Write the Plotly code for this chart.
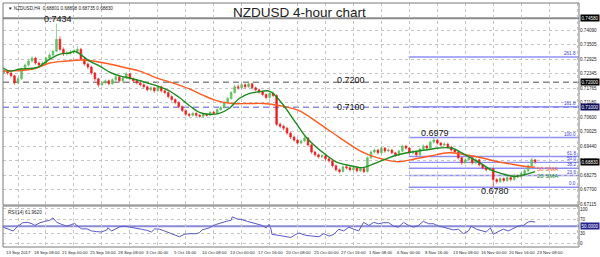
import plotly.graph_objects as go

# ---------------- data ----------------
first_open = 0.7240
close = [
    0.7245, 0.7237, 0.7226, 0.7198, 0.7214, 0.7253, 0.7269, 0.7285, 0.7297, 0.7277,
    0.7269, 0.7277, 0.7297, 0.7309, 0.7324, 0.7372, 0.7332, 0.7313, 0.7317, 0.7321,
    0.7324, 0.7332, 0.7293, 0.7273, 0.7261, 0.7237, 0.7214, 0.7190, 0.7198, 0.7206,
    0.7194, 0.7210, 0.7222, 0.7206, 0.7218, 0.7234, 0.7214, 0.7206, 0.7198, 0.7190,
    0.7182, 0.7170, 0.7178, 0.7166, 0.7182, 0.7166, 0.7159, 0.7143, 0.7131, 0.7119,
    0.7103, 0.7087, 0.7072, 0.7068, 0.7076, 0.7068, 0.7064, 0.7072, 0.7068, 0.7080,
    0.7076, 0.7091, 0.7099, 0.7119, 0.7135, 0.7159, 0.7182, 0.7178, 0.7190, 0.7182,
    0.7194, 0.7178, 0.7170, 0.7162, 0.7151, 0.7139, 0.7155, 0.7147, 0.7032, 0.7024,
    0.7016, 0.6997, 0.6981, 0.6969, 0.6957, 0.6965, 0.6977, 0.6949, 0.6921, 0.6910,
    0.6902, 0.6906, 0.6894, 0.6886, 0.6866, 0.6850, 0.6843, 0.6862, 0.6858, 0.6850,
    0.6858, 0.6846, 0.6854, 0.6843, 0.6898, 0.6921, 0.6929, 0.6918, 0.6937, 0.6925,
    0.6929, 0.6918, 0.6910, 0.6925, 0.6945, 0.6937, 0.6918, 0.6921, 0.6910, 0.6933,
    0.6945, 0.6937, 0.6961, 0.6969, 0.6957, 0.6949, 0.6953, 0.6941, 0.6929, 0.6921,
    0.6898, 0.6878, 0.6890, 0.6898, 0.6878, 0.6890, 0.6870, 0.6858, 0.6850, 0.6854,
    0.6811, 0.6803, 0.6815, 0.6807, 0.6819, 0.6811, 0.6827, 0.6823, 0.6835, 0.6846,
    0.6866, 0.6890, 0.6883]
high = [
    0.7252, 0.7250, 0.7241, 0.7230, 0.7220, 0.7258, 0.7275, 0.7292, 0.7305, 0.7302,
    0.7283, 0.7284, 0.7303, 0.7316, 0.7330, 0.7434, 0.7385, 0.7340, 0.7325, 0.7330,
    0.7333, 0.7345, 0.7338, 0.7298, 0.7279, 0.7266, 0.7242, 0.7219, 0.7206, 0.7212,
    0.7211, 0.7216, 0.7230, 0.7227, 0.7224, 0.7241, 0.7238, 0.7219, 0.7211, 0.7203,
    0.7196, 0.7187, 0.7184, 0.7182, 0.7189, 0.7186, 0.7171, 0.7163, 0.7148, 0.7136,
    0.7124, 0.7108, 0.7092, 0.7078, 0.7082, 0.7080, 0.7073, 0.7078, 0.7077, 0.7085,
    0.7086, 0.7096, 0.7105, 0.7124, 0.7141, 0.7165, 0.7190, 0.7192, 0.7198, 0.7196,
    0.7203, 0.7199, 0.7183, 0.7175, 0.7167, 0.7156, 0.7162, 0.7163, 0.7152, 0.7040,
    0.7031, 0.7022, 0.7003, 0.6987, 0.6975, 0.6972, 0.6984, 0.6981, 0.6953, 0.6926,
    0.6915, 0.6913, 0.6911, 0.6899, 0.6890, 0.6871, 0.6855, 0.6868, 0.6867, 0.6863,
    0.6864, 0.6862, 0.6860, 0.6858, 0.6904, 0.6928, 0.6936, 0.6934, 0.6943, 0.6941,
    0.6936, 0.6933, 0.6922, 0.6931, 0.6951, 0.6950, 0.6941, 0.6928, 0.6925, 0.6939,
    0.6952, 0.6950, 0.6967, 0.6979, 0.6974, 0.6962, 0.6960, 0.6958, 0.6946, 0.6934,
    0.6925, 0.6902, 0.6896, 0.6905, 0.6902, 0.6897, 0.6894, 0.6875, 0.6863, 0.6860,
    0.6858, 0.6817, 0.6821, 0.6820, 0.6825, 0.6824, 0.6833, 0.6831, 0.6841, 0.6853,
    0.6872, 0.6898, 0.6890]
low = [
    0.7233, 0.7230, 0.7219, 0.7190, 0.7192, 0.7210, 0.7248, 0.7264, 0.7280, 0.7270,
    0.7258, 0.7263, 0.7272, 0.7291, 0.7304, 0.7320, 0.7325, 0.7305, 0.7306, 0.7310,
    0.7314, 0.7318, 0.7287, 0.7266, 0.7252, 0.7230, 0.7205, 0.7180, 0.7184, 0.7192,
    0.7188, 0.7189, 0.7205, 0.7199, 0.7200, 0.7213, 0.7208, 0.7199, 0.7191, 0.7183,
    0.7175, 0.7163, 0.7164, 0.7158, 0.7161, 0.7159, 0.7152, 0.7136, 0.7124, 0.7112,
    0.7096, 0.7080, 0.7064, 0.7061, 0.7063, 0.7062, 0.7058, 0.7060, 0.7063, 0.7064,
    0.7070, 0.7072, 0.7086, 0.7094, 0.7114, 0.7130, 0.7154, 0.7170, 0.7172, 0.7176,
    0.7177, 0.7171, 0.7163, 0.7155, 0.7144, 0.7132, 0.7135, 0.7140, 0.7025, 0.7016,
    0.7008, 0.6990, 0.6973, 0.6962, 0.6950, 0.6952, 0.6960, 0.6942, 0.6914, 0.6903,
    0.6895, 0.6897, 0.6887, 0.6879, 0.6859, 0.6843, 0.6835, 0.6838, 0.6851, 0.6843,
    0.6845, 0.6839, 0.6841, 0.6836, 0.6838, 0.6893, 0.6915, 0.6911, 0.6913, 0.6918,
    0.6920, 0.6911, 0.6902, 0.6905, 0.6920, 0.6930, 0.6911, 0.6913, 0.6903, 0.6905,
    0.6928, 0.6930, 0.6932, 0.6955, 0.6950, 0.6942, 0.6944, 0.6934, 0.6922, 0.6914,
    0.6891, 0.6870, 0.6873, 0.6885, 0.6871, 0.6873, 0.6863, 0.6851, 0.6843, 0.6845,
    0.6780, 0.6795, 0.6798, 0.6800, 0.6802, 0.6804, 0.6806, 0.6817, 0.6818, 0.6830,
    0.6841, 0.6862, 0.6874]

sma20_k = [-0.3, 1.7, 4.6, 8.8, 10.3, 13.1, 16.0, 18.8, 20.2, 24.5, 27.4, 30.2, 33.1,
           36.8, 40.8, 44.5, 47.3, 50.2, 53.0, 55.9, 58.7, 61.6, 64.4, 67.3, 70.1,
           73.0, 75.3, 76.7, 79.6, 82.4, 84.4, 86.4, 89.3, 92.1, 95.0, 97.8, 100.7,
           102.4, 104.4, 107.2, 110.1, 112.9, 116.6, 120.6, 124.3, 128.0, 132.0,
           135.7, 139.4, 143.4, 146.3, 149.1, 152.0]
sma20_v = [0.7257, 0.7245, 0.7253, 0.7257, 0.7265, 0.7293, 0.7313, 0.7317, 0.7324,
           0.7285, 0.7265, 0.7241, 0.7226, 0.7214, 0.7198, 0.7182, 0.7166, 0.7139,
           0.7107, 0.7080, 0.7072, 0.7076, 0.7095, 0.7135, 0.7155, 0.7162, 0.7166,
           0.7159, 0.7115, 0.7060, 0.7020, 0.6981, 0.6941, 0.6910, 0.6882, 0.6870,
           0.6862, 0.6858, 0.6866, 0.6882, 0.6898, 0.6910, 0.6921, 0.6929, 0.6937,
           0.6937, 0.6910, 0.6882, 0.6850, 0.6831, 0.6823, 0.6831, 0.6843]
sma50_k = [-0.3, 8.3, 13.1, 18.0, 21.7, 25.4, 30.2, 35.1, 38.8, 43.6, 48.2, 53.0,
           55.9, 60.7, 65.3, 70.1, 74.4, 78.7, 84.4, 90.1, 95.8, 101.5, 104.4,
           109.2, 112.9, 117.8, 122.3, 127.2, 132.0, 136.6, 141.4, 146.3, 150.0, 152.0]
sma50_v = [0.7245, 0.7253, 0.7277, 0.7285, 0.7289, 0.7285, 0.7273, 0.7257, 0.7245,
           0.7218, 0.7198, 0.7174, 0.7155, 0.7127, 0.7115, 0.7115, 0.7115, 0.7107,
           0.7087, 0.7036, 0.6981, 0.6929, 0.6910, 0.6890, 0.6882, 0.6894, 0.6906,
           0.6918, 0.6910, 0.6898, 0.6882, 0.6870, 0.6862, 0.6860]

rsi_k = [-0.3, 0.3, 1.7, 2.6, 4.0, 5.4, 6.8, 8.0, 8.8, 10.3, 11.7, 13.1, 14.0, 15.1,
         16.5, 18.0, 19.4, 20.2, 21.1, 22.2, 23.7, 25.1, 26.5, 27.9, 29.4, 29.7,
         30.8, 31.7, 33.1, 34.5, 35.9, 37.9, 39.3, 40.8, 42.2, 43.1, 44.5, 45.9,
         47.3, 48.8, 50.2, 51.6, 53.0, 55.0, 55.9, 56.7, 58.7, 60.7, 62.2, 63.6,
         65.0, 65.3, 66.7, 68.1, 69.6, 71.0, 72.4, 73.9, 75.0, 75.8, 76.4, 76.7,
         78.7, 80.7, 82.1, 83.0, 84.4, 86.4, 88.1, 90.1, 91.5, 93.0, 94.4, 95.8,
         97.2, 98.7, 100.1, 101.5, 102.9, 104.4, 105.8, 107.2, 108.6, 110.1, 111.5,
         112.9, 114.3, 115.8, 117.2, 118.6, 120.0, 121.5, 122.9, 124.3, 125.7,
         127.2, 128.6, 130.0, 131.5, 132.9, 133.7, 135.2, 136.6, 138.0, 139.2,
         140.0, 141.4, 142.9, 144.3, 145.7, 147.1, 148.6, 150.0, 150.8, 152.0]
rsi_v = [47, 45, 41, 36, 50, 60, 61, 57, 52, 60, 64, 67, 74, 61,
         55, 50, 55, 58, 50, 42, 42, 36, 34, 33, 39, 45,
         36, 41, 48, 50, 48, 43, 41, 38, 33, 42, 41, 36,
         31, 26, 19, 26, 28, 28, 31, 39, 45, 55, 60, 64,
         67, 77, 71, 69, 64, 60, 57, 52, 45, 55, 41, 26,
         23, 20, 17, 23, 30, 23, 21, 19, 28, 21, 26, 41,
         36, 47, 41, 36, 61, 52, 61, 57, 60, 60, 50,
         47, 61, 52, 47, 52, 64, 57, 57, 50, 47,
         43, 39, 41, 28, 36, 50, 41, 36, 33, 45,
         26, 34, 41, 36, 43, 50, 52, 62, 64, 62]

time_labels = ["13 Sep 2017", "18 Sep 08:00", "21 Sep 00:00", "25 Sep 16:00",
               "28 Sep 08:00", "3 Oct 00:00", "5 Oct 16:00", "10 Oct 08:00",
               "13 Oct 00:00", "17 Oct 16:00", "20 Oct 08:00", "25 Oct 00:00",
               "27 Oct 16:00", "1 Nov 08:00", "6 Nov 00:00", "8 Nov 16:00",
               "13 Nov 08:00", "16 Nov 00:00", "20 Nov 16:00", "23 Nov 08:00"]
price_ticks = [0.67115, 0.67700, 0.68275, 0.68860, 0.69440, 0.70025, 0.70600,
               0.71180, 0.71765, 0.72345, 0.72925, 0.73505, 0.74090]
rsi_ticks = [0, 30, 70, 100]

fib_names = ["261.8", "161.8", "100.0", "61.8", "50.0", "38.2", "23.6", "0.0"]
fib_ratios = [2.618, 1.618, 1.0, 0.618, 0.5, 0.382, 0.236, 0.0]
swing_low, swing_high = 0.6780, 0.6979
level_lines = [0.7200, 0.7100]
top_line = 0.7456
last_price = 0.68830

# ---------------- figure ----------------
FONT = "Liberation Sans, Arial, sans-serif"
kk = list(range(len(close)))
opens = [first_open] + close[:-1]

X0, X1 = -0.3, 164.55
main_dom = [42 / 244, 1.0]
rsi_dom = [0.0, 41 / 244]

fig = go.Figure()
fig.add_trace(go.Candlestick(
    x=kk, open=opens, high=high, low=low, close=close,
    increasing=dict(line=dict(color="#52b852", width=0.6), fillcolor="#6cc46c"),
    decreasing=dict(line=dict(color="#ee1c1c", width=0.6), fillcolor="#ee1c1c"),
    whiskerwidth=0, showlegend=False, hoverinfo="skip", xaxis="x", yaxis="y"))
fig.add_trace(go.Scatter(x=sma50_k, y=sma50_v, mode="lines",
                         line=dict(color="#ff5a1f", width=1.4, shape="spline"),
                         showlegend=False, hoverinfo="skip", xaxis="x", yaxis="y"))
fig.add_trace(go.Scatter(x=sma20_k, y=sma20_v, mode="lines",
                         line=dict(color="#1a8a1a", width=1.4, shape="spline"),
                         showlegend=False, hoverinfo="skip", xaxis="x", yaxis="y"))
fig.add_trace(go.Scatter(x=rsi_k, y=rsi_v, mode="lines",
                         line=dict(color="#5858c8", width=1),
                         showlegend=False, hoverinfo="skip", xaxis="x", yaxis="y2"))

shapes = []
shapes.append(dict(type="line", xref="paper", x0=0, x1=1, yref="y", y0=top_line, y1=top_line,
                   line=dict(color="#8a8a8a", width=2), layer="below"))
shapes.append(dict(type="line", xref="paper", x0=0, x1=1, yref="y", y0=level_lines[0], y1=level_lines[0],
                   line=dict(color="#8a8a8a", width=1.5, dash="6px,4px"), layer="below"))
shapes.append(dict(type="line", xref="paper", x0=0, x1=1, yref="y", y0=level_lines[1], y1=level_lines[1],
                   line=dict(color="#8c8ce6", width=1.5, dash="6px,4px"), layer="below"))
fib_prices = [swing_low + r * (swing_high - swing_low) for r in fib_ratios]
for p in fib_prices:
    shapes.append(dict(type="line", xref="x", x0=115.8, x1=X1, yref="y", y0=p, y1=p,
                       line=dict(color="#8f8ff5", width=1.4), layer="below"))
shapes.append(dict(type="line", xref="paper", x0=0, x1=1, yref="y2", y0=50, y1=50,
                   line=dict(color="#8a8ad8", width=2), layer="below"))
shapes.append(dict(type="rect", xref="paper", yref="paper", x0=0, x1=1,
                   y0=main_dom[0], y1=main_dom[1], line=dict(color="#7a7a7a", width=1)))
shapes.append(dict(type="rect", xref="paper", yref="paper", x0=0, x1=1,
                   y0=rsi_dom[0], y1=rsi_dom[1], line=dict(color="#7a7a7a", width=1)))

ann = []
small = dict(family=FONT, size=4.6, color="#222222")
xlab = dict(family=FONT, size=4.3, color="#222222")
for i, t in enumerate(time_labels):
    ann.append(dict(x=8 * i, y=0, xref="x", yref="paper", text=t, showarrow=False,
                    xanchor="left", yanchor="top", yshift=-1, font=xlab))
for p, bg in [(top_line, "#000000"), (level_lines[0], "#000000"),
              (level_lines[1], "#10105a"), (last_price, "#000000")]:
    ann.append(dict(x=1, y=p, xref="paper", yref="y", text=f"{p:.5f}" if p != top_line else "0.74580",
                    showarrow=False, xanchor="left", yanchor="middle", xshift=1,
                    bgcolor=bg, font=dict(family=FONT, size=4.6, color="white"), borderpad=0.5))
ann.append(dict(x=1, y=50, xref="paper", yref="y2", text="50.0000", showarrow=False,
                xanchor="left", yanchor="middle", xshift=1, bgcolor="#23238c",
                font=dict(family=FONT, size=4.6, color="white"), borderpad=0.5))
for name, p in zip(fib_names, fib_prices):
    ann.append(dict(x=1, y=p, xref="paper", yref="y", text=name, showarrow=False,
                    xanchor="right", yanchor="bottom", xshift=-1, yshift=-1,
                    font=dict(family=FONT, size=4.6, color="#3a3ad0")))
big = dict(family=FONT, size=9, color="#111111")
for txt, xk, yp in [("0.7434", 15.4, 0.7453), ("0.7200", 99.2, 0.7209),
                    ("0.7100", 99.2, 0.7103), ("0.6979", 123.2, 0.6997),
                    ("0.6780", 140.6, 0.6767)]:
    ann.append(dict(x=xk, y=yp, xref="x", yref="y", text=txt, showarrow=False,
                    xanchor="center", yanchor="middle", font=big))
ann.append(dict(x=152.0, y=0.6853, xref="x", yref="y", text="50 SMA", showarrow=False,
                xanchor="left", yanchor="middle", font=dict(family=FONT, size=6, color="#ff5a1f")))
ann.append(dict(x=152.0, y=0.6825, xref="x", yref="y", text="20 SMA", showarrow=False,
                xanchor="left", yanchor="middle", font=dict(family=FONT, size=6, color="#1a8a1a")))
ann.append(dict(x=0.514, y=0.963, xref="paper", yref="paper", text="NZDUSD 4-hour chart",
                showarrow=False, xanchor="center", yanchor="middle",
                font=dict(family=FONT, size=13.5, color="#222222")))
ann.append(dict(x=0, y=1, xref="paper", yref="paper",
                text="\u25bc NZDUSD,H4  0.68801 0.68898 0.68735 0.68830",
                showarrow=False, xanchor="left", yanchor="top", xshift=3, yshift=-1, font=small))
ann.append(dict(x=0, y=rsi_dom[1], xref="paper", yref="paper", text="RSI(14) 61.9620",
                showarrow=False, xanchor="left", yanchor="top", xshift=3, yshift=-2, font=small))

grid = dict(showgrid=True, gridcolor="#c4c4c4", griddash="dot", gridwidth=1, zeroline=False)
fig.update_layout(
    width=600, height=257, margin=dict(l=3, r=19, t=3, b=10),
    paper_bgcolor="white", plot_bgcolor="white", showlegend=False,
    font=dict(family=FONT),
    xaxis=dict(domain=[0, 1], range=[X0, X1], anchor="y2", tickvals=[4 + 8 * i for i in range(21)],
               showticklabels=False, ticks="", rangeslider=dict(visible=False),
               fixedrange=True, **grid),
    yaxis=dict(domain=main_dom, range=[0.67092, 0.75172], side="right", anchor="x",
               tickvals=price_ticks, ticktext=[f"{v:.5f}" for v in price_ticks],
               tickfont=small, ticks="", fixedrange=True, **grid),
    yaxis2=dict(domain=rsi_dom, range=[-10.8, 108.7], side="right", anchor="x",
                tickvals=rsi_ticks, ticktext=[str(v) for v in rsi_ticks],
                tickfont=small, ticks="", fixedrange=True, **grid),
    shapes=shapes, annotations=ann,
)
fig.write_html("out.html")
